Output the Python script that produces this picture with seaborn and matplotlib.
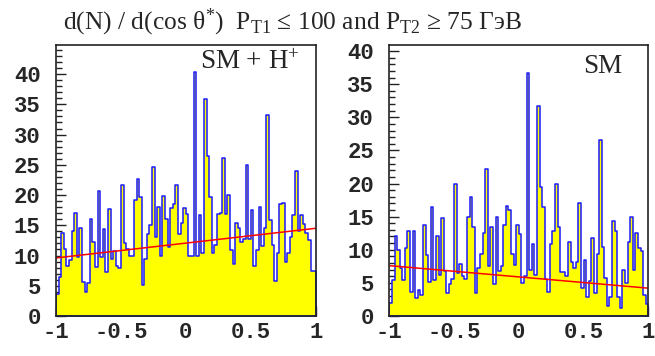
import numpy as np
import pandas as pd
import matplotlib
matplotlib.use("Agg")
import matplotlib.pyplot as plt
import seaborn as sns
from matplotlib.ticker import MultipleLocator

# 100 bins in cos(theta*) from -1 to 1
n_bins = 100
centers = np.linspace(-1, 1, n_bins + 1)[:-1] + 1.0 / n_bins

# SM + H+ (left panel)
counts_smh = [3.6, 6.5, 13.7, 11.0, 8.3, 9.3, 14.0, 17.1, 9.7, 14.6,
              5.6, 3.9, 5.5, 16.0, 12.2, 8.1, 20.6, 9.7, 14.4, 7.3,
              17.7, 9.5, 10.7, 8.3, 8.0, 21.6, 12.0, 11.1, 10.0, 10.0,
              19.2, 22.6, 19.6, 5.2, 9.5, 13.6, 15.0, 24.6, 13.0, 18.1,
              10.0, 19.8, 16.0, 11.4, 17.8, 18.5, 21.6, 13.6, 15.3, 17.8,
              16.9, 10.0, 10.0, 40.3, 10.0, 16.7, 10.4, 35.9, 26.4, 19.6,
              10.4, 11.7, 16.9, 17.0, 26.2, 16.9, 20.0, 10.9, 8.6, 15.4,
              14.5, 12.3, 12.8, 25.0, 12.8, 17.6, 8.3, 10.9, 18.0, 11.5,
              14.5, 33.2, 15.9, 11.7, 5.8, 10.4, 18.5, 18.7, 8.9, 10.4,
              13.1, 16.7, 23.9, 14.1, 16.7, 15.2, 13.7, 12.5, 7.5, 7.5]

# SM only (right panel)
counts_sm = [2.0, 5.4, 12.0, 9.9, 7.2, 5.5, 10.3, 12.9, 3.6, 12.9,
             2.7, 3.9, 3.2, 13.7, 9.2, 5.2, 16.4, 5.5, 12.0, 6.2,
             14.8, 6.8, 3.5, 4.8, 5.6, 19.9, 6.5, 7.9, 6.1, 5.6,
             15.0, 17.9, 13.5, 3.4, 7.2, 9.3, 12.5, 22.2, 7.6, 13.4,
             4.8, 14.9, 6.8, 7.6, 13.7, 16.6, 16.0, 9.4, 7.7, 13.7,
             12.4, 5.0, 6.0, 36.7, 7.0, 10.8, 6.2, 31.7, 19.4, 16.4,
             5.6, 3.6, 10.8, 12.9, 20.0, 13.4, 6.7, 6.7, 6.0, 11.2,
             8.2, 7.2, 8.2, 17.1, 4.2, 8.5, 2.9, 5.3, 11.8, 3.4,
             9.4, 26.5, 10.4, 5.7, 1.5, 2.9, 14.3, 12.8, 2.9, 1.2,
             7.0, 5.0, 11.2, 14.9, 7.0, 12.5, 10.2, 9.8, 3.2, 1.8]

# linear fits (end points at cos = -1 and cos = 1)
fit_x = [-1, 1]
fit_smh = [9.6, 14.5]
fit_sm = [7.6, 4.2]

xticks = [-1, -0.5, 0, 0.5, 1]
xtick_labels = ["-1", "-0.5", "0", "0.5", "1"]
yticks = [0, 5, 10, 15, 20, 25, 30, 35, 40]
ytick_labels = ["0", "5", "10", "15", "20", "25", "30", "35", "40"]

sns.set_style("ticks")
plt.rcParams['font.family'] = ['Liberation Serif', 'DejaVu Serif']
plt.rcParams['mathtext.fontset'] = 'custom'
plt.rcParams['mathtext.rm'] = 'Liberation Serif'
plt.rcParams['mathtext.it'] = 'Liberation Serif:italic'
plt.rcParams['axes.unicode_minus'] = False

fig = plt.figure(figsize=(6.55, 3.56), dpi=100)
ax1 = fig.add_axes([0.0855, 0.1124, 0.3965, 0.761])
ax2 = fig.add_axes([0.5944, 0.1124, 0.3954, 0.761])

panels = [
    (ax1, counts_smh, fit_smh, 44.8, "SM + H$^{+}$", 0.94, 0.935),
    (ax2, counts_sm, fit_sm, 40.9, "SM", 0.898, 0.92),
]

for ax, counts, fit, ymax, label, lx, ly in panels:
    df = pd.DataFrame({"cos": centers, "n": counts})
    sns.histplot(data=df, x="cos", weights="n", bins=n_bins, binrange=(-1, 1),
                 element='step', fill=True,
                 facecolor='#ffff00', edgecolor='#1a1aff', linewidth=1.1, alpha=1,
                 ax=ax)
    sns.lineplot(x=fit_x, y=fit, color='red', linewidth=1.1, ax=ax)

    ax.set_xlim(-1, 1)
    ax.set_ylim(0, ymax)
    ax.set_xlabel('')
    ax.set_ylabel('')
    ax.set_xticks(xticks, labels=xtick_labels, fontfamily='Liberation Mono',
                  fontweight='bold', fontsize=16)
    ax.set_yticks(yticks, labels=ytick_labels, fontfamily='Liberation Mono',
                  fontweight='bold', fontsize=16)
    ax.xaxis.set_minor_locator(MultipleLocator(0.1))
    ax.yaxis.set_minor_locator(MultipleLocator(1))
    ax.tick_params(which='both', direction='in', top=False, right=False,
                   color='#222222', width=1.0)
    ax.tick_params(which='major', length=7.5)
    ax.tick_params(which='minor', length=4)
    ax.tick_params(axis='x', pad=4)
    ax.tick_params(axis='y', pad=11)
    for sp in ax.spines.values():
        sp.set_linewidth(1.2)
        sp.set_color('#222222')
    ax.text(lx, ly, label, transform=ax.transAxes, ha='right', va='center',
            fontsize=19.5)

fig.text(0.447, 0.937,
         "d(N) / d(cos θ$^{*}$)  P$_{\\rm T1}$ ≤ 100 and P$_{\\rm T2}$ ≥ 75 ГэВ",
         ha='center', va='center', fontsize=18.4)

fig.savefig("out.png", dpi=100)
